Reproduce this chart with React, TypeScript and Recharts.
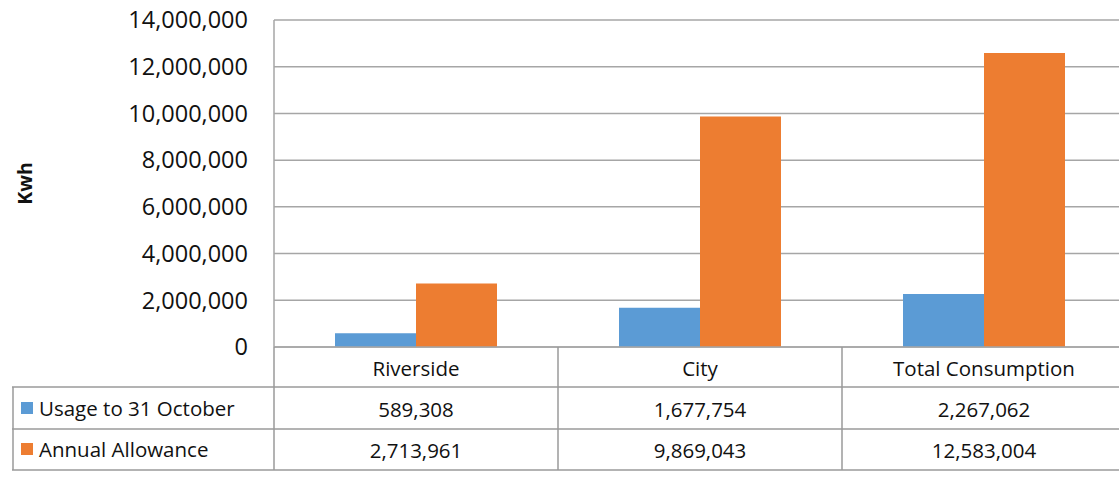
import React from "react"
import { BarChart, Bar, XAxis, YAxis, CartesianGrid } from "recharts"

const categories = ["Riverside", "City", "Total Consumption"]
const usage = [589308, 1677754, 2267062]
const allowance = [2713961, 9869043, 12583004]
const yTicks = [0, 2000000, 4000000, 6000000, 8000000, 10000000, 12000000, 14000000]
const seriesNames = ["Usage to 31 October", "Annual Allowance"]

const BLUE = "#5B9BD5"
const ORANGE = "#ED7D31"
const GRID = "#A6A6A6"
const BORDER = "#9A9A9A"
const FONT = "'Open Sans', sans-serif"
const TEXT = "#111"

const data = categories.map((name, i) => ({ name, usage: usage[i], allowance: allowance[i] }))

const fmt = (v: number) => v.toLocaleString("en-US")

const BAND = 284

function TableTick(props: any) {
  const { x, y, payload, index } = props
  return (
    <g>
      <line x1={x - BAND / 2} x2={x - BAND / 2} y1={y} y2={y + 123} stroke={BORDER} strokeWidth={1.5} />
      <text x={x} y={y + 21} textAnchor="middle" dominantBaseline="central" fontSize={20.5} fontFamily={FONT} fill={TEXT}>
        {payload.value}
      </text>
      <text x={x} y={y + 62} textAnchor="middle" dominantBaseline="central" fontSize={20.5} fontFamily={FONT} fill={TEXT}>
        {fmt(usage[index])}
      </text>
      <text x={x} y={y + 103} textAnchor="middle" dominantBaseline="central" fontSize={20.5} fontFamily={FONT} fill={TEXT}>
        {fmt(allowance[index])}
      </text>
    </g>
  )
}

export default function App() {
  return (
    <div style={{ position: "absolute", left: 0, top: 0, width: 1119, height: 479, overflow: "hidden", background: "#fff" }}>
      <BarChart
        width={1130}
        height={479}
        data={data}
        margin={{ top: 20, right: 4, left: 0, bottom: 0 }}
        barCategoryGap={61}
        barGap={0}
      >
        <CartesianGrid horizontal vertical={false} stroke={GRID} strokeWidth={1.5} />
        <XAxis
          dataKey="name"
          height={132}
          axisLine={{ stroke: GRID, strokeWidth: 1.5 }}
          tickLine={false}
          tickSize={0}
          tickMargin={0}
          interval={0}
          tick={<TableTick />}
        />
        <YAxis
          width={274}
          domain={[0, 14000000]}
          ticks={yTicks}
          tickFormatter={fmt}
          axisLine={{ stroke: GRID, strokeWidth: 1.5 }}
          tickLine={false}
          tickSize={0}
          tickMargin={26}
          tick={{ fontSize: 23.5, fontFamily: FONT, fill: TEXT }}
          label={{
            value: "Kwh",
            angle: -90,
            position: "insideLeft",
            offset: 25,
            style: { fontSize: 19.5, fontWeight: 700, fontFamily: FONT, fill: TEXT, textAnchor: "middle" },
          }}
        />
        <Bar dataKey="usage" name={seriesNames[0]} fill={BLUE} isAnimationActive={false} />
        <Bar dataKey="allowance" name={seriesNames[1]} fill={ORANGE} isAnimationActive={false} />
      </BarChart>
      <svg width={1119} height={479} style={{ position: "absolute", left: 0, top: 0, pointerEvents: "none" }}>
        {[387, 429, 470].map((y) => (
          <line key={y} x1={12} x2={1119} y1={y} y2={y} stroke={BORDER} strokeWidth={1.5} />
        ))}
        <line x1={13} x2={13} y1={387} y2={470} stroke={BORDER} strokeWidth={1.5} />
        {seriesNames.map((s, i) => (
          <g key={s}>
            <rect x={21} y={402 + i * 41} width={12} height={12} fill={i === 0 ? BLUE : ORANGE} />
            <text x={39} y={408 + i * 41} dominantBaseline="central" fontSize={20.5} fontFamily={FONT} fill={TEXT}>
              {s}
            </text>
          </g>
        ))}
      </svg>
    </div>
  )
}
